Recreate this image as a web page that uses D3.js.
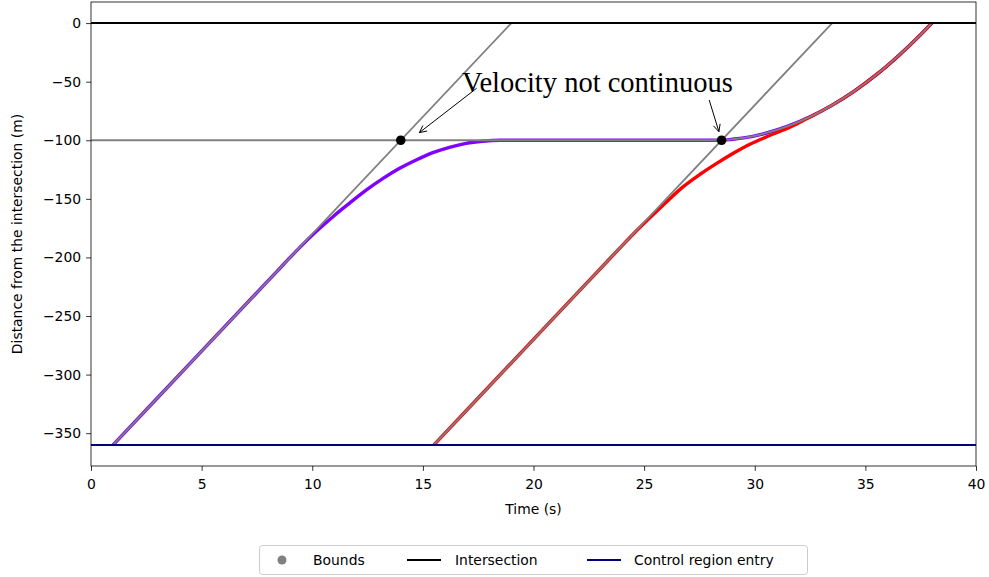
<!DOCTYPE html>
<html>
<head>
<meta charset="utf-8">
<script src="https://cdn.jsdelivr.net/npm/d3@7"></script>
<style>
  html, body { margin: 0; padding: 0; background: #fff; }
  svg { display: block; }
  text { font-family: "DejaVu Sans", sans-serif; }
</style>
</head>
<body>
<svg id="chart" width="989" height="577"></svg>
<script>
// ---------------- data (time s, distance m) ----------------
const xTicks = [0, 5, 10, 15, 20, 25, 30, 35, 40];
const yTicks = [0, -50, -100, -150, -200, -250, -300, -350];

const intersectionD = 0;
const controlEntryD = -360;

// vehicle 1 (purple)
const vehicle1 = [
  [1.0, -360], [5.0, -280], [8.0, -220], [8.7, -206], [9.45, -191.2],
  [10.2, -177.5], [10.95, -165.0], [11.7, -153.5],
  [12.45, -142.4], [13.2, -132.5], [13.95, -123.9], [14.7, -116.8],
  [15.45, -110.6], [16.2, -106.0], [16.95, -102.6], [17.7, -100.8],
  [18.5, -100], [28.5, -100], [29.0, -99.1], [29.5, -98.0], [30.5, -94.0],
  [31.5, -88.0], [32.5, -80.0], [33.5, -70.0], [34.5, -58.0], [35.5, -44.0],
  [36.5, -27.8], [37.5, -9.8], [38.0, 0]
];

// vehicle 2 (red)
const vehicle2 = [
  [15.5, -360], [19.5, -280], [22.5, -220], [23.2, -206], [23.9, -192],
  [24.6, -178.3], [25.27, -166], [26.02, -152.4], [26.77, -139.6],
  [27.53, -129.0], [28.28, -119.7], [29.03, -111.1], [29.78, -103.4],
  [30.54, -97.0], [31.29, -91.2], [31.9, -86.0], [32.5, -80.2], [33.5, -70.0],
  [34.5, -58.0], [35.5, -44.0], [36.5, -27.8], [37.5, -9.8], [38.0, 0]
];

// bounds (gray)
const boundLine1 = [[1.0, -360], [19.0, 0]];
const boundLine2 = [[15.5, -360], [33.5, 0]];
const boundStop = [
  [0, -100], [28.5, -100], [29.0, -99.1], [29.5, -98.0], [30.5, -94.0],
  [31.5, -88.0], [32.5, -80.0], [33.5, -70.0], [34.5, -58.0], [35.5, -44.0],
  [36.5, -27.8], [37.5, -9.8], [38.0, 0]
];

// points where velocity is not continuous
const boundPoints = [[14.0, -100], [28.5, -100]];

const legendLabels = ["Bounds", "Intersection", "Control region entry"];

// ---------------- layout ----------------
const svg = d3.select("#chart");
const L = 91, R = 976, T = 2, B = 466;

const x = d3.scaleLinear().domain([0, 40]).range([L, R]);
const y = d3.scaleLinear().domain([-378, 18]).range([B, T]);

svg.append("defs").append("clipPath").attr("id", "clip")
  .append("rect").attr("x", L).attr("y", T).attr("width", R - L).attr("height", B - T);

const plot = svg.append("g").attr("clip-path", "url(#clip)");

const line = d3.line().x(d => x(d[0])).y(d => y(d[1])).curve(d3.curveMonotoneX);
const straight = d3.line().x(d => x(d[0])).y(d => y(d[1]));

plot.append("path").attr("d", line(vehicle1))
  .attr("fill", "none").attr("stroke", "#8000ff").attr("stroke-width", 3.4);
plot.append("path").attr("d", line(vehicle2))
  .attr("fill", "none").attr("stroke", "#ff0000").attr("stroke-width", 3.4);

[boundLine1, boundLine2].forEach(b => {
  plot.append("path").attr("d", straight(b))
    .attr("fill", "none").attr("stroke", "#808080").attr("stroke-width", 1.8);
});
plot.append("path").attr("d", line(boundStop))
  .attr("fill", "none").attr("stroke", "#808080").attr("stroke-width", 1.8);

plot.append("line").attr("x1", x(0)).attr("x2", x(40))
  .attr("y1", y(intersectionD)).attr("y2", y(intersectionD))
  .attr("stroke", "#000").attr("stroke-width", 2);
plot.append("line").attr("x1", x(0)).attr("x2", x(40))
  .attr("y1", y(controlEntryD)).attr("y2", y(controlEntryD))
  .attr("stroke", "#000080").attr("stroke-width", 2);

plot.selectAll("circle.bp").data(boundPoints).enter().append("circle")
  .attr("class", "bp").attr("cx", d => x(d[0])).attr("cy", d => y(d[1]))
  .attr("r", 4.8).attr("fill", "#000");

// ---------------- annotation ----------------
const ann = svg.append("g");
ann.append("text").attr("x", x(16.77)).attr("y", y(-58.8))
  .style("font-family", "'Liberation Serif', 'DejaVu Serif', serif")
  .style("font-size", "28.5px").attr("fill", "#000")
  .text("Velocity not continuous");

function arrow(x1, y1, x2, y2) {
  ann.append("line").attr("x1", x1).attr("y1", y1).attr("x2", x2).attr("y2", y2)
    .attr("stroke", "#000").attr("stroke-width", 1);
  const a = Math.atan2(y1 - y2, x1 - x2);
  const hl = 8, ha = 0.45;
  [a + ha, a - ha].forEach(b => {
    ann.append("line").attr("x1", x2).attr("y1", y2)
      .attr("x2", x2 + hl * Math.cos(b)).attr("y2", y2 + hl * Math.sin(b))
      .attr("stroke", "#000").attr("stroke-width", 1);
  });
}
arrow(x(17.43), y(-55.6), x(14.84), y(-93.5));
arrow(x(27.94), y(-65.6), x(28.38), y(-92.7));

// ---------------- axes ----------------
const fmt = d => d < 0 ? "\u2212" + Math.abs(d) : d;
const xAxis = d3.axisBottom(x).tickValues(xTicks).tickSize(4.9).tickPadding(8).tickFormat(fmt);
const yAxis = d3.axisLeft(y).tickValues(yTicks).tickSize(4.9).tickPadding(5).tickFormat(fmt);

const gx = svg.append("g").attr("transform", `translate(0,${B})`).call(xAxis);
const gy = svg.append("g").attr("transform", `translate(${L},0)`).call(yAxis);
[gx, gy].forEach(g => {
  g.select(".domain").remove();
  g.selectAll("line").attr("stroke", "#000").attr("stroke-width", 0.8);
  g.selectAll("text").attr("fill", "#000")
    .style("font-family", "'DejaVu Sans', sans-serif").style("font-size", "13.9px");
});

svg.append("rect").attr("x", L).attr("y", T).attr("width", R - L).attr("height", B - T)
  .attr("fill", "none").attr("stroke", "#000").attr("stroke-width", 0.8);

svg.append("text").attr("x", (L + R) / 2).attr("y", 514).attr("text-anchor", "middle")
  .style("font-size", "13.9px").attr("fill", "#000").text("Time (s)");
svg.append("text").attr("transform", `translate(22,${(T + B) / 2}) rotate(-90)`)
  .attr("text-anchor", "middle").style("font-size", "13.9px").attr("fill", "#000")
  .text("Distance from the intersection (m)");

// ---------------- legend ----------------
const lg = svg.append("g");
lg.append("rect").attr("x", 259.5).attr("y", 545.5).attr("width", 548).attr("height", 29)
  .attr("rx", 3).attr("fill", "#fff").attr("fill-opacity", 0.8)
  .attr("stroke", "#cccccc").attr("stroke-width", 1);
const ly = 560;
lg.append("circle").attr("cx", 282).attr("cy", ly).attr("r", 4.5).attr("fill", "#808080");
lg.append("text").attr("x", 313).attr("y", ly + 5).style("font-size", "13.9px").text(legendLabels[0]);
lg.append("line").attr("x1", 407).attr("x2", 441).attr("y1", ly).attr("y2", ly)
  .attr("stroke", "#000").attr("stroke-width", 2);
lg.append("text").attr("x", 455).attr("y", ly + 5).style("font-size", "13.9px").text(legendLabels[1]);
lg.append("line").attr("x1", 587).attr("x2", 621).attr("y1", ly).attr("y2", ly)
  .attr("stroke", "#000080").attr("stroke-width", 2);
lg.append("text").attr("x", 634).attr("y", ly + 5).style("font-size", "13.9px").text(legendLabels[2]);
</script>
</body>
</html>
